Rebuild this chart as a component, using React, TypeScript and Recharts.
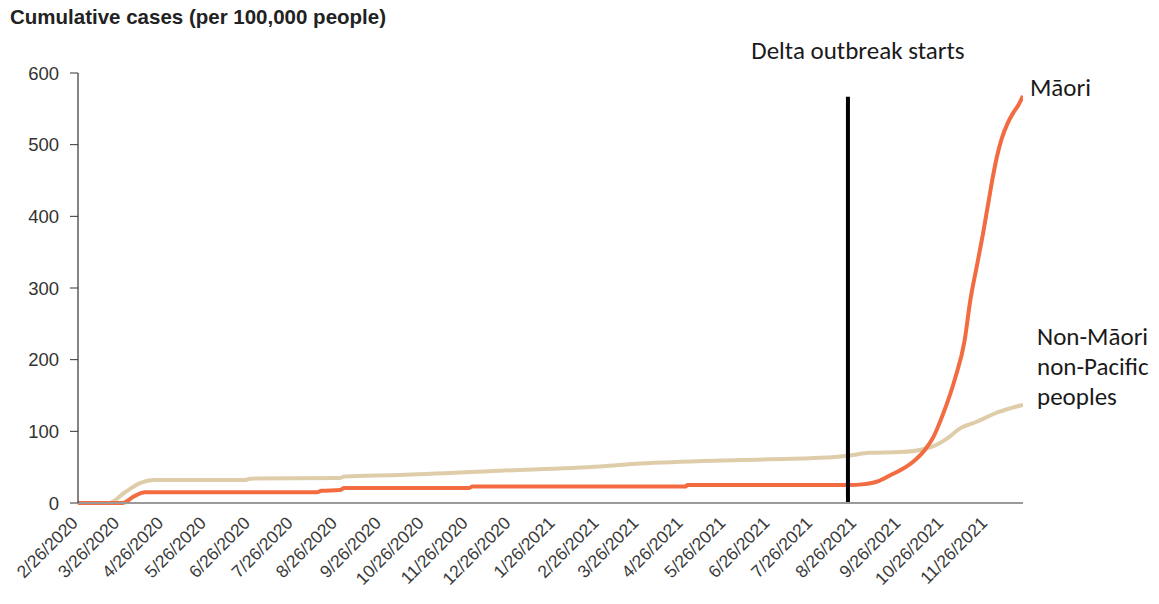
import React from 'react';
import { LineChart, Line, XAxis, YAxis, ReferenceLine } from 'recharts';

const tickLabels = [
  '2/26/2020', '3/26/2020', '4/26/2020', '5/26/2020', '6/26/2020', '7/26/2020',
  '8/26/2020', '9/26/2020', '10/26/2020', '11/26/2020', '12/26/2020', '1/26/2021',
  '2/26/2021', '3/26/2021', '4/26/2021', '5/26/2021', '6/26/2021', '7/26/2021',
  '8/26/2021', '9/26/2021', '10/26/2021', '11/26/2021',
];
const yTicks = [0, 100, 200, 300, 400, 500, 600];

const maoriDates = [
  '2/26/2020', '3/28/2020', '4/6/2020', '4/13/2020', '8/12/2020', '8/15/2020', '8/28/2020',
  '8/31/2020', '11/27/2020', '11/29/2020', '4/28/2021', '4/29/2021', '8/21/2021', '8/30/2021',
  '9/11/2021', '9/20/2021', '9/26/2021', '10/5/2021', '10/13/2021', '10/19/2021', '10/26/2021',
  '11/3/2021', '11/10/2021', '11/14/2021', '11/19/2021', '11/23/2021', '11/27/2021',
  '11/30/2021', '12/3/2021', '12/6/2021', '12/10/2021', '12/14/2021', '12/18/2021', '12/21/2021',
];
const maoriValues = [
  0, 0, 10, 15, 15, 17, 18,
  21, 21, 23, 23, 25, 25, 26,
  31, 40, 46, 58, 74, 92, 125,
  172, 227, 283, 335, 377, 423,
  457, 486, 508, 529, 544, 556, 568,
];

const otherDates = [
  '2/26/2020', '3/19/2020', '3/30/2020', '4/10/2020', '4/19/2020', '6/22/2020', '6/26/2020',
  '8/28/2020', '8/31/2020', '10/9/2020', '12/18/2020', '2/27/2021', '3/27/2021', '6/5/2021',
  '7/31/2021', '8/20/2021', '9/4/2021', '9/26/2021', '10/14/2021', '10/21/2021', '10/30/2021',
  '11/6/2021', '11/18/2021', '12/4/2021', '12/21/2021',
];
const otherValues = [
  0, 0, 15, 28, 32, 32, 34,
  35, 37, 39, 45, 51, 55, 60,
  63, 66, 70, 71, 76, 81, 92,
  103, 113, 127, 137,
];

const deltaStart = '8/20/2021';
const deltaTop = 567;
const endDate = '12/21/2021';

const START = Date.UTC(2020, 1, 26);
const dayOf = (s: string) => {
  const [m, d, y] = s.split('/').map(Number);
  return Math.round((Date.UTC(y, m - 1, d) - START) / 86400000);
};

const maoriData = maoriDates.map((d, i) => ({ day: dayOf(d), value: maoriValues[i] }));
const otherData = otherDates.map((d, i) => ({ day: dayOf(d), value: otherValues[i] }));
const tickDays = tickLabels.map(dayOf);
const labelByDay: Record<number, string> = {};
tickLabels.forEach((l) => { labelByDay[dayOf(l)] = l; });

const ORANGE = '#F26B41';
const BEIGE = '#DFCDAA';
const ANNOT_FONT = 'Carlito, Calibri, Lato, "Open Sans", sans-serif';
const AXIS_FONT = "'Liberation Sans', Arial, sans-serif";

const XTick = (props: any) => {
  const { x, y, payload } = props;
  const ax = x + 1;
  const ay = y + 13;
  return (
    <text
      x={ax}
      y={ay}
      transform={`rotate(-45, ${ax}, ${ay})`}
      textAnchor="end"
      fontSize={17.5}
      fontFamily={AXIS_FONT}
      fill="#3a3a3a"
    >
      {labelByDay[payload.value] ?? ''}
    </text>
  );
};

const maoriLabel = (props: any) => {
  const { x, y, index } = props;
  if (index !== maoriData.length - 1) return null;
  return (
    <text key="ml" x={x + 7} y={y} fontSize={25} fontFamily={ANNOT_FONT} fill="#1a1a1a">
      Māori
    </text>
  );
};

const otherLabel = (props: any) => {
  const { x, y, index } = props;
  if (index !== otherData.length - 1) return null;
  return (
    <text key="ol" x={x + 14} y={y} fontSize={25} fontFamily={ANNOT_FONT} fill="#1a1a1a">
      <tspan x={x + 14} dy={-60}>Non-Māori</tspan>
      <tspan x={x + 14} dy={30}>non-Pacific</tspan>
      <tspan x={x + 14} dy={30}>peoples</tspan>
    </text>
  );
};

const deltaLabel = (props: any) => {
  const vb = props.viewBox || {};
  return (
    <text
      x={vb.x + 10}
      y={vb.y - 38}
      textAnchor="middle"
      fontSize={25}
      fontFamily={ANNOT_FONT}
      fill="#1a1a1a"
    >
      Delta outbreak starts
    </text>
  );
};

export default function App() {
  return (
    <div style={{ position: 'absolute', left: 0, top: 0, width: 1159, height: 604, background: '#fff' }}>
      <div
        style={{
          position: 'absolute',
          left: 10,
          top: 5,
          fontFamily: AXIS_FONT,
          fontWeight: 'bold',
          fontSize: 20.5,
          color: '#222',
          whiteSpace: 'nowrap',
        }}
      >
        Cumulative cases (per 100,000 people)
      </div>
      <LineChart
        width={1159}
        height={604}
        margin={{ top: 73, right: 136, left: 0, bottom: 11 }}
      >
        <XAxis
          type="number"
          dataKey="day"
          domain={[0, dayOf(endDate)]}
          ticks={tickDays}
          interval={0}
          tick={<XTick />}
          tickLine={false}
          axisLine={{ stroke: '#9a9a9a', strokeWidth: 2 }}
          height={90}
          allowDataOverflow
        />
        <YAxis
          type="number"
          domain={[0, 600]}
          ticks={yTicks}
          width={78}
          tickSize={8}
          tickMargin={11}
          tickLine={{ stroke: '#333' }}
          axisLine={{ stroke: '#333', strokeWidth: 1.2 }}
          tick={{ fontSize: 18.5, fill: '#333', fontFamily: AXIS_FONT }}
        />
        <Line
          data={otherData}
          dataKey="value"
          type="monotone"
          stroke={BEIGE}
          strokeWidth={4}
          dot={false}
          isAnimationActive={false}
          label={otherLabel}
        />
        <Line
          data={maoriData}
          dataKey="value"
          type="monotone"
          stroke={ORANGE}
          strokeWidth={4}
          dot={false}
          isAnimationActive={false}
          label={maoriLabel}
        />
        <ReferenceLine
          segment={[{ x: dayOf(deltaStart), y: 0 }, { x: dayOf(deltaStart), y: deltaTop }]}
          stroke="#000"
          strokeWidth={4}
          label={deltaLabel}
        />
      </LineChart>
    </div>
  );
}
